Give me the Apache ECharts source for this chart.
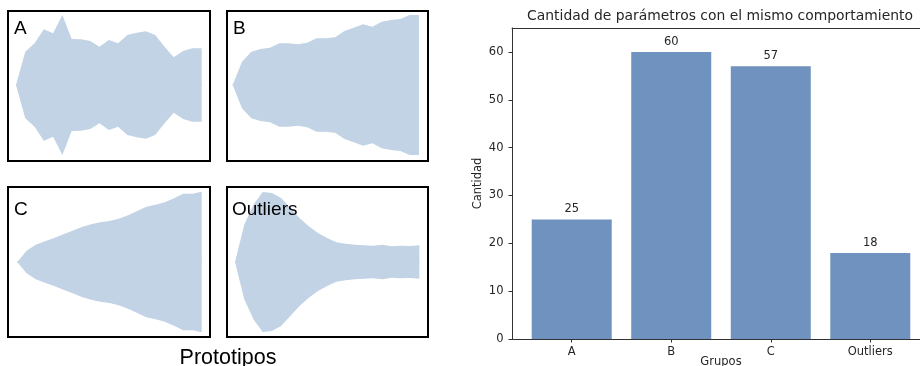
<!DOCTYPE html>
<html><head><meta charset="utf-8">
<script src="https://cdn.jsdelivr.net/npm/echarts@6/dist/echarts.min.js"></script>
<style>html,body{margin:0;padding:0;background:#fff}#c{width:920px;height:366px}</style>
</head><body><div id="c"></div>
<script>
// ---- bar chart data ----
const categories = ['A', 'B', 'C', 'Outliers'];
const counts = [25, 60, 57, 18];
const yTicks = [0, 10, 20, 30, 40, 50, 60];
const barTitle = 'Cantidad de parámetros con el mismo comportamiento';
const xName = 'Grupos';
const yName = 'Cantidad';

// ---- prototype envelopes (half-widths, symmetric) ----
const protoNames = ['A', 'B', 'C', 'Outliers'];
const protoA = [0, 100, 125, 167, 155, 210, 138, 137, 132, 115, 135, 125, 150, 157, 161, 150, 115, 83, 102, 110, 110];
const protoB = [0, 70, 100, 108, 112, 125, 125, 122, 127, 140, 140, 143, 162, 172, 182, 175, 190, 195, 198, 210, 210];
const protoC = [0, 34, 52, 62, 72, 83, 94, 105, 113, 119, 123, 130, 140, 153, 166, 172, 179, 191, 205, 205, 211];
const protoOut = [0, 112, 172, 210, 207, 192, 162, 132, 107, 87, 72, 59, 55, 52, 50, 49, 52, 47, 49, 48, 50];
const protoTitle = 'Prototipos';

const AREA = '#c1d3e5';
const BAR = '#7092bf';
const TXT = '#262626';
const SPINE = '#333';
const MPL = '"DejaVu Sans", sans-serif';
const ARIAL = '"Liberation Sans", Arial, sans-serif';
const FS = 11.5;

const protos = [protoA, protoB, protoC, protoOut];
// layout for the four panels
const panelLayout = [
  { left: 8, top: 11, width: 202, height: 150, xmin: -0.86, xmax: 20.9, ymin: -228, ymax: 222, lx: 14, ly: 28.5 },
  { left: 227, top: 11, width: 201, height: 150, xmin: -0.61, xmax: 20.97, ymin: -228, ymax: 222, lx: 233, ly: 28.5 },
  { left: 8, top: 187, width: 202, height: 150, xmin: -1.01, xmax: 20.9, ymin: -225, ymax: 225, lx: 14, ly: 210 },
  { left: 227, top: 187, width: 201, height: 150, xmin: -0.87, xmax: 20.94, ymin: -225, ymax: 225, lx: 232, ly: 210 }
];

const grids = [], xAxes = [], yAxes = [], series = [], graphics = [];
panelLayout.forEach((p, k) => {
  grids.push({ left: p.left, top: p.top, width: p.width, height: p.height, show: true, outerBoundsMode: 'none',
    borderColor: '#000', borderWidth: 2, backgroundColor: 'transparent', z: 5 });
  xAxes.push({ gridIndex: k, type: 'value', min: p.xmin, max: p.xmax, show: false });
  yAxes.push({ gridIndex: k, type: 'value', min: p.ymin, max: p.ymax, show: false });
  const hw = protos[k];
  const up = hw.map((w, i) => [i, w]);
  const dn = hw.map((w, i) => [i, -w]);
  series.push({ type: 'line', xAxisIndex: k, yAxisIndex: k, data: up, symbol: 'none', silent: true,
    lineStyle: { width: 0, opacity: 0 }, areaStyle: { color: AREA, opacity: 1, origin: -3 }, z: 2 });
  series.push({ type: 'line', xAxisIndex: k, yAxisIndex: k, data: dn, symbol: 'none', silent: true,
    lineStyle: { width: 0, opacity: 0 }, areaStyle: { color: AREA, opacity: 1, origin: 3 }, z: 2 });
  graphics.push({ type: 'text', x: p.lx, y: p.ly, z: 10,
    style: { text: protoNames[k], font: '19px ' + ARIAL, fill: '#000', align: 'left', verticalAlign: 'middle' } });
});
graphics.push({ type: 'text', x: 228, y: 358, z: 10,
  style: { text: protoTitle, font: '21.5px ' + ARIAL, fill: '#000', align: 'center', verticalAlign: 'middle' } });
graphics.push({ type: 'text', x: 720, y: 16.5, z: 10,
  style: { text: barTitle, font: '13.9px ' + MPL, fill: TXT, align: 'center', verticalAlign: 'middle' } });
graphics.push({ type: 'text', x: 721, y: 362.5, z: 10,
  style: { text: xName, font: FS + 'px ' + MPL, fill: TXT, align: 'center', verticalAlign: 'middle' } });

// bar chart grid
const bi = 4;
grids.push({ left: 512, top: 28, width: 418, height: 311, show: false, outerBoundsMode: 'none', containLabel: false });
const catIdx = categories.map((c, i) => i);
xAxes.push({ gridIndex: bi, type: 'value', min: -0.6, max: 3.6, position: 'bottom',
  axisLine: { show: true, onZero: false, lineStyle: { color: SPINE, width: 1 } },
  splitLine: { show: false },
  axisTick: { show: true, customValues: catIdx, length: 3.5, lineStyle: { color: SPINE } },
  axisLabel: { customValues: catIdx, formatter: v => categories[Math.round(v)], fontSize: FS, fontFamily: MPL, color: TXT, margin: 7 } });
// top spine
xAxes.push({ gridIndex: bi, type: 'value', min: -0.6, max: 3.6, position: 'top',
  axisLine: { show: true, onZero: false, lineStyle: { color: SPINE, width: 1 } },
  splitLine: { show: false }, axisTick: { show: false }, axisLabel: { show: false } });
yAxes.push({ gridIndex: bi, type: 'value', min: 0, max: 65, position: 'left',
  axisLine: { show: true, onZero: false, lineStyle: { color: SPINE, width: 1 } },
  splitLine: { show: false },
  axisTick: { show: true, customValues: yTicks, length: 3.5, lineStyle: { color: SPINE } },
  axisLabel: { customValues: yTicks, fontSize: FS, fontFamily: MPL, color: TXT, margin: 8.5 },
  name: yName, nameLocation: 'middle', nameGap: 28, nameRotate: 90, nameTextStyle: { fontSize: FS, fontFamily: MPL, color: TXT } });
series.push({ type: 'bar', xAxisIndex: bi, yAxisIndex: bi, data: counts.map((v, i) => [i, v]), barWidth: 80,
  itemStyle: { color: BAR },
  label: { show: true, position: 'top', distance: 4, fontSize: FS, fontFamily: MPL, color: TXT } });

const chart = echarts.init(document.getElementById('c'), null, { renderer: 'canvas' });
chart.setOption({ animation: false, backgroundColor: '#fff', grid: grids, xAxis: xAxes, yAxis: yAxes, series: series, graphic: graphics });
</script>
</body></html>
